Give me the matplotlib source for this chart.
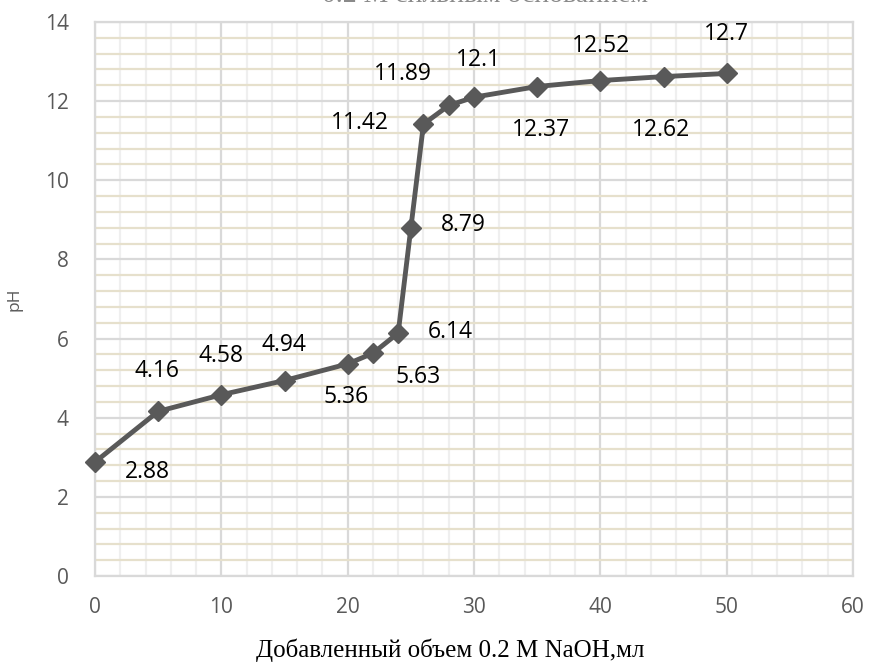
import matplotlib
matplotlib.use("Agg")
import matplotlib.pyplot as plt
from matplotlib.ticker import MultipleLocator

plt.rcParams["font.family"] = ["Open Sans", "DejaVu Sans"]

volume = [0, 5, 10, 15, 20, 22, 24, 25, 26, 28, 30, 35, 40, 45, 50]
ph = [2.88, 4.16, 4.58, 4.94, 5.36, 5.63, 6.14, 8.79, 11.42, 11.89, 12.1, 12.37, 12.52, 12.62, 12.7]
point_labels = ["2.88", "4.16", "4.58", "4.94", "5.36", "5.63", "6.14", "8.79",
                "11.42", "11.89", "12.1", "12.37", "12.52", "12.62", "12.7"]
# label offsets in pixels (dx, dy up)
offsets = [(52, -10), (-1, 40), (0, 39), (-1, 36), (-2, -33), (45, -24), (52, 1), (52, 3),
           (-64, 1), (-46, 31), (4, 37), (4, -43), (1, 35), (-2, -53), (0, 39)]

fig = plt.figure(figsize=(8.72, 6.64), dpi=100)
ax = fig.add_axes([95/872, 88/664, 758/872, 554/664])

ax.set_xlim(0, 60)
ax.set_ylim(0, 14)
ax.xaxis.set_major_locator(MultipleLocator(10))
ax.xaxis.set_minor_locator(MultipleLocator(2))
ax.yaxis.set_major_locator(MultipleLocator(2))
ax.yaxis.set_minor_locator(MultipleLocator(0.4))

ax.grid(which="minor", axis="y", color="#e6e0cc", lw=1.6, zorder=0)
ax.grid(which="minor", axis="x", color="#efefef", lw=1.6, zorder=0)
ax.grid(which="major", color="#d9d9d9", lw=1.6, zorder=0)
for s in ax.spines.values():
    s.set_color("#d9d9d9")
    s.set_linewidth(1.6)

ax.tick_params(which="both", length=0)
ax.tick_params(axis="x", pad=15, labelsize=15, labelcolor="#595959")
ax.tick_params(axis="y", pad=19, labelsize=15, labelcolor="#595959")

ax.plot(volume, ph, color="#595959", lw=3.5, marker="D", markersize=10,
        markerfacecolor="#595959", markeredgecolor="#595959", zorder=3, clip_on=False)

for x, y, t, (dx, dy) in zip(volume, ph, point_labels, offsets):
    ax.annotate(t, (x, y), xytext=(dx, dy), textcoords="offset pixels",
                ha="center", va="center", fontsize=16.5, color="#000000")

ax.set_ylabel("pH", fontsize=12.5, color="#595959")
ax.yaxis.set_label_coords((22 - 95) / 758, 0.5)
ax.set_xlabel("Добавленный объем 0.2 M NaOH,мл", fontsize=18, family="Liberation Serif",
              color="#000000")
ax.xaxis.set_label_coords((450 - 95) / 758, (576 - 650) / 554)
ax.xaxis.label.set_va("center")

fig.text(485 / 872, 1 - 2 / 664, "0.2 M сильным основанием", ha="center", va="baseline",
         fontsize=20, family="Liberation Serif", color="#8a8a8a")

fig.savefig("out.png", dpi=100)
